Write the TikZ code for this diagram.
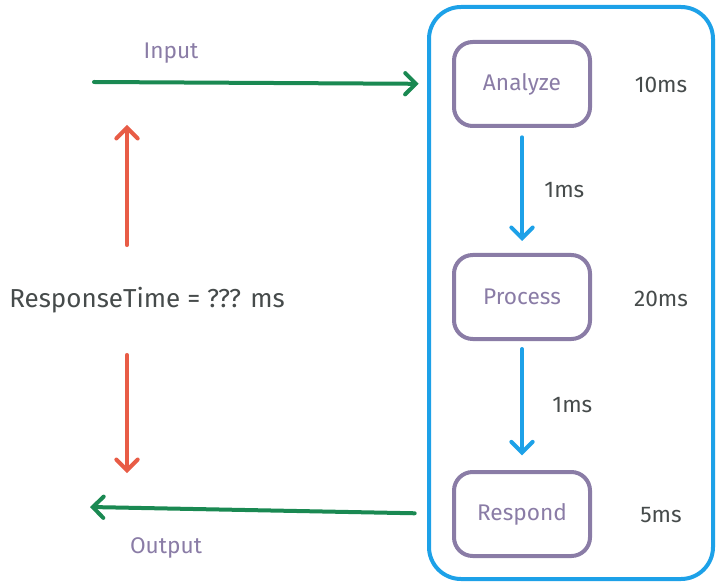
\documentclass[tikz,border=0pt]{standalone}
\usepackage{fontspec}
\setmainfont{Fira Sans}
\usetikzlibrary{arrows.meta,positioning}

\definecolor{frameblue}{HTML}{1DA1E8}
\definecolor{stagepurple}{HTML}{8A7CA6}
\definecolor{flowgreen}{HTML}{1A8952}
\definecolor{timered}{HTML}{E85C46}
\definecolor{textgrey}{HTML}{464B4B}

\begin{document}
\begin{tikzpicture}[
    x=0.75pt, y=-0.75pt,
    >={Straight Barb[length=8pt,width=16pt,line cap=round]},
    stage/.style={
        draw=stagepurple, line width=3pt,
        rounded corners=14pt,
        minimum width=102pt, minimum height=63pt,
        text=stagepurple, font=\fontsize{17}{20}\selectfont
    },
    cost/.style={text=textgrey, font=\fontsize{17}{20}\selectfont},
    flow/.style={draw=flowgreen, line width=3pt, line cap=round, ->},
    hop/.style={draw=frameblue, line width=3pt, line cap=round, ->},
    span/.style={draw=timered, line width=3pt, line cap=round, ->},
    tag/.style={text=stagepurple, font=\fontsize{17}{20}\selectfont}
]
\useasboundingbox (0,0) rectangle (716,584);

% system boundary
\draw[frameblue, line width=3pt, rounded corners=24pt] (429,7) rectangle (713,579);

% stages
\node[stage] (analyze) at (522,84) {Analyze};
\node[stage] (process) at (522,297) {Process};
\node[stage] (respond) at (522,514) {Respond};

\node[cost] (tAnalyze) at (661,85) {10ms};
\node[cost] (tProcess) at (661,299) {20ms};
\node[cost] (tRespond) at (661,515) {5ms};

\draw[hop, shorten <=7pt, shorten >=9pt] (analyze) -- (process)
    node[cost, midway, right=12pt] (d1) {1ms};
\draw[hop, shorten <=6pt, shorten >=11pt] (process) -- (respond)
    node[cost, midway, right=18pt] (d2) {1ms};

% input / output
\coordinate (in) at (94,82);
\coordinate (out) at (90,507);
\draw[flow, shorten >=25pt] (in) -- (analyze.west |- 0,84);
\node[tag] (inLabel) at (171,53) {Input};
\draw[flow, shorten <=28pt] (respond.west) -- (out);
\node[tag] (outLabel) at (166,548) {Output};

% response time
\node[cost, font=\fontsize{19.5}{23}\selectfont] (rt) at (147,300) {ResponseTime = ??? ms};
\coordinate (up) at (127,125);
\coordinate (down) at (127,473);
\draw[span, shorten <=28pt] (rt.north -| up) -- (up);
\draw[span, shorten <=28pt] (rt.south -| down) -- (down);
\end{tikzpicture}
\end{document}
